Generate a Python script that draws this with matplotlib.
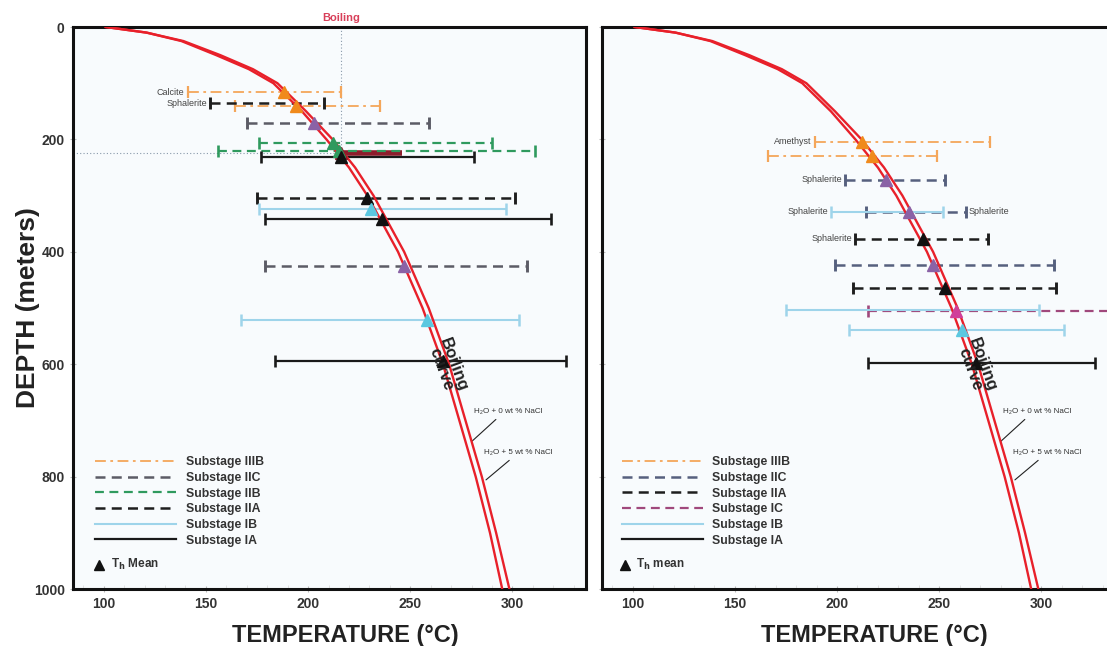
import matplotlib
matplotlib.use("Agg")
import matplotlib.pyplot as plt
import numpy as np
from matplotlib.lines import Line2D

plt.rcParams["font.family"] = ["Liberation Sans", "DejaVu Sans"]

# boiling curves, depth (m) -> temperature (C)
curve_depth = [0, 10, 25, 50, 75, 100, 150, 200, 250, 300, 400, 500, 600, 700, 800, 900, 1000]
curve_t0 = [101, 121, 138, 155, 171, 183, 197, 209, 220, 229, 244, 256, 266, 274, 282, 289, 295]
curve_t5 = [101, 121, 139, 157, 173, 185, 199, 212, 223, 232, 247, 259, 269, 277, 285, 292, 298.5]

# left panel: depth, Th min, Th max, Th mean per substage
left_IIIB = dict(depth=[116, 141], tmin=[141, 164], tmax=[216, 235], tmean=[188, 194], label=["Calcite", ""])
left_IIC = dict(depth=[170, 425], tmin=[170, 179], tmax=[259, 307], tmean=[203, 247], label=["", ""])
left_IIB = dict(depth=[206, 220], tmin=[176, 156], tmax=[290, 311], tmean=[212, 215], label=["", ""])
left_IIA = dict(depth=[136, 304], tmin=[152, 175], tmax=[208, 301], tmean=[np.nan, 229], label=["Sphalerite", ""])
left_IB = dict(depth=[323, 522], tmin=[176, 167], tmax=[297, 303], tmean=[231, 258], label=["", ""])
left_IA = dict(depth=[232, 341, 594], tmin=[177, 179, 184], tmax=[281, 319, 326], tmean=[216, 236, 266], label=["", "", ""])
boil_depth = 224
boil_tmin = 216
boil_tmax = 246

# right panel
right_IIIB = dict(depth=[204, 229], tmin=[189, 166], tmax=[275, 249], tmean=[212, 217], label=["Amethyst", ""])
right_IIC = dict(depth=[272, 329, 424], tmin=[204, 214, 199], tmax=[253, 263, 306], tmean=[224, 235, 247],
                 label=["Sphalerite", "Sphalerite>", ""])
right_IIA = dict(depth=[377, 464], tmin=[209, 208], tmax=[274, 307], tmean=[242, 253], label=["Sphalerite", ""])
right_IC = dict(depth=[506], tmin=[215], tmax=[345], tmean=[258], label=[""])
right_IB = dict(depth=[329, 504, 539], tmin=[197, 175, 206], tmax=[252, 299, 311], tmean=[np.nan, np.nan, 261],
                label=["Sphalerite", "", ""])
right_IA = dict(depth=[597], tmin=[215], tmax=[326], tmean=[268], label=[""])

styles = {
    "IIIB": dict(color="#f4a65a", ls=(0, (6, 2.5, 1.5, 2.5)), lw=1.3, mc="#f08a1c"),
    "IIC": dict(color="#5c5c66", ls=(0, (4, 2.5)), lw=1.8, mc="#8a62a6"),
    "IIC_r": dict(color="#56607e", ls=(0, (4, 2.5)), lw=1.8, mc="#8a62a6"),
    "IIB": dict(color="#2f9a5e", ls=(0, (4, 2.5)), lw=1.6, mc="#2f9a5e"),
    "IIA": dict(color="#1e1e1e", ls=(0, (4, 2.5)), lw=1.8, mc="#111111"),
    "IC": dict(color="#a0487c", ls=(0, (4, 2.5)), lw=1.6, mc="#d0409a"),
    "IB": dict(color="#9ed4ea", ls="-", lw=1.5, mc="#5cc8e0"),
    "IA": dict(color="#1a1a1a", ls="-", lw=1.6, mc="#111111"),
}


def draw_series(ax, s, st):
    ax.hlines(s["depth"], s["tmin"], s["tmax"], colors=st["color"], linestyles=[st["ls"]], lw=st["lw"], zorder=3)
    ax.plot(s["tmin"], s["depth"], ls="none", marker="|", ms=9, mew=st["lw"] + 0.3, color=st["color"], zorder=3)
    ax.plot(s["tmax"], s["depth"], ls="none", marker="|", ms=9, mew=st["lw"] + 0.3, color=st["color"], zorder=3)
    ax.plot(s["tmean"], s["depth"], ls="none", marker="^", ms=8, color=st["mc"], zorder=5)
    for d, lo, hi, lab in zip(s["depth"], s["tmin"], s["tmax"], s["label"]):
        if lab.endswith(">"):
            ax.text(hi + 1.5, d, lab[:-1], fontsize=6.5, color="#444444", ha="left", va="center")
        elif lab:
            ax.text(lo - 1.5, d, lab, fontsize=6.5, color="#444444", ha="right", va="center")


def draw_base(ax):
    ax.set_facecolor("#f8fbfd")
    ax.plot(curve_t0, curve_depth, color="#e8202a", lw=1.7, zorder=4)
    ax.plot(curve_t5, curve_depth, color="#e8202a", lw=1.7, zorder=4)
    ax.set_xlim(85, 336)
    ax.set_ylim(1000, 0)
    ax.set_xticks([100, 150, 200, 250, 300])
    ax.set_xticks(np.arange(90, 340, 10), minor=True)
    ax.set_yticks([0, 200, 400, 600, 800, 1000])
    ax.tick_params(axis="both", which="major", direction="inout", length=5, color="#bbbbbb",
                   labelsize=10, labelcolor="#333333")
    ax.tick_params(axis="x", which="minor", direction="in", length=3, color="#dddddd")
    for lab in ax.get_xticklabels() + ax.get_yticklabels():
        lab.set_fontweight("bold")
    for sp in ax.spines.values():
        sp.set_linewidth(2.2)
        sp.set_color("#111111")
    ax.set_xlabel("TEMPERATURE (\u00b0C)", fontsize=17, fontweight="bold", color="#222222", labelpad=9, x=0.53)
    ax.text(268, 605, "Boiling\ncurve", rotation=-70, rotation_mode="anchor", ha="center", va="center",
            fontsize=12, fontweight="bold", color="#222222", linespacing=0.85, zorder=6)
    ax.annotate("H\u2082O + 0 wt % NaCl", xy=(279, 741), xytext=(281, 690), fontsize=5.8, color="#333333",
                ha="left", va="bottom", arrowprops=dict(arrowstyle="-", color="#222222", lw=0.8, relpos=(0.4, 0)))
    ax.annotate("H\u2082O + 5 wt % NaCl", xy=(286, 809), xytext=(286, 763), fontsize=5.8, color="#333333",
                ha="left", va="bottom", arrowprops=dict(arrowstyle="-", color="#222222", lw=0.8, relpos=(0.45, 0)))


def draw_legend(ax, names, labels, x0, tri_x, mean_text):
    handles = [Line2D([], [], color=styles[n]["color"], ls=styles[n]["ls"], lw=styles[n]["lw"]) for n in names]
    ax.legend(handles, labels, loc="upper left", bbox_to_anchor=(x0, 0.236), frameon=False,
              prop=dict(weight="bold", size=8.8), labelcolor="#333333", handlelength=6.6, handletextpad=0.8,
              labelspacing=0.3, borderpad=0, borderaxespad=0)
    ax.plot(tri_x, 0.043, marker="^", color="#111111", ms=7, transform=ax.transAxes, clip_on=False)
    ax.text(tri_x + 0.022, 0.043, mean_text, transform=ax.transAxes, fontsize=8.5, fontweight="bold",
            color="#333333", va="center", ha="left")


fig = plt.figure(figsize=(11.07, 6.46), dpi=100)
axL = fig.add_axes([0.066, 0.0882, 0.4634, 0.870])
axR = fig.add_axes([0.5438, 0.0882, 0.4634, 0.870])

# left panel
draw_base(axL)
axL.set_ylabel("DEPTH (meters)", fontsize=19, fontweight="bold", color="#222222")
axL.yaxis.set_label_coords(-0.064, 0.5)
axL.plot([boil_tmin, boil_tmin], [0, boil_depth], ls=(0, (1, 2)), color="#8899aa", lw=0.8, zorder=2)
axL.plot([85, boil_tmin], [boil_depth, boil_depth], ls=(0, (1, 2)), color="#8899aa", lw=0.8, zorder=2)
axL.text(boil_tmin, -8, "Boiling", color="#d8405a", fontsize=8, fontweight="bold", ha="center", va="bottom")
axL.hlines(boil_depth, boil_tmin, boil_tmax, colors="#8e1c2c", lw=4, zorder=3)
axL.plot(boil_tmin, boil_depth, ls="none", marker="^", ms=8, color="#8e1c2c", zorder=5)
for s, n in [(left_IIIB, "IIIB"), (left_IIC, "IIC"), (left_IIB, "IIB"), (left_IIA, "IIA"), (left_IB, "IB"), (left_IA, "IA")]:
    draw_series(axL, s, styles[n])
draw_legend(axL, ["IIIB", "IIC", "IIB", "IIA", "IB", "IA"],
            ["Substage IIIB", "Substage IIC", "Substage IIB", "Substage IIA", "Substage IB", "Substage IA"],
            0.043, 0.051, r"T$_\mathbf{h}$ Mean")

# right panel
draw_base(axR)
axR.set_yticklabels([])
for s, n in [(right_IIIB, "IIIB"), (right_IIC, "IIC_r"), (right_IIA, "IIA"), (right_IC, "IC"), (right_IB, "IB"), (right_IA, "IA")]:
    draw_series(axR, s, styles[n])
draw_legend(axR, ["IIIB", "IIC_r", "IIA", "IC", "IB", "IA"],
            ["Substage IIIB", "Substage IIC", "Substage IIA", "Substage IC", "Substage IB", "Substage IA"],
            0.039, 0.045, r"T$_\mathbf{h}$ mean")

fig.savefig("out.png", dpi=100)
